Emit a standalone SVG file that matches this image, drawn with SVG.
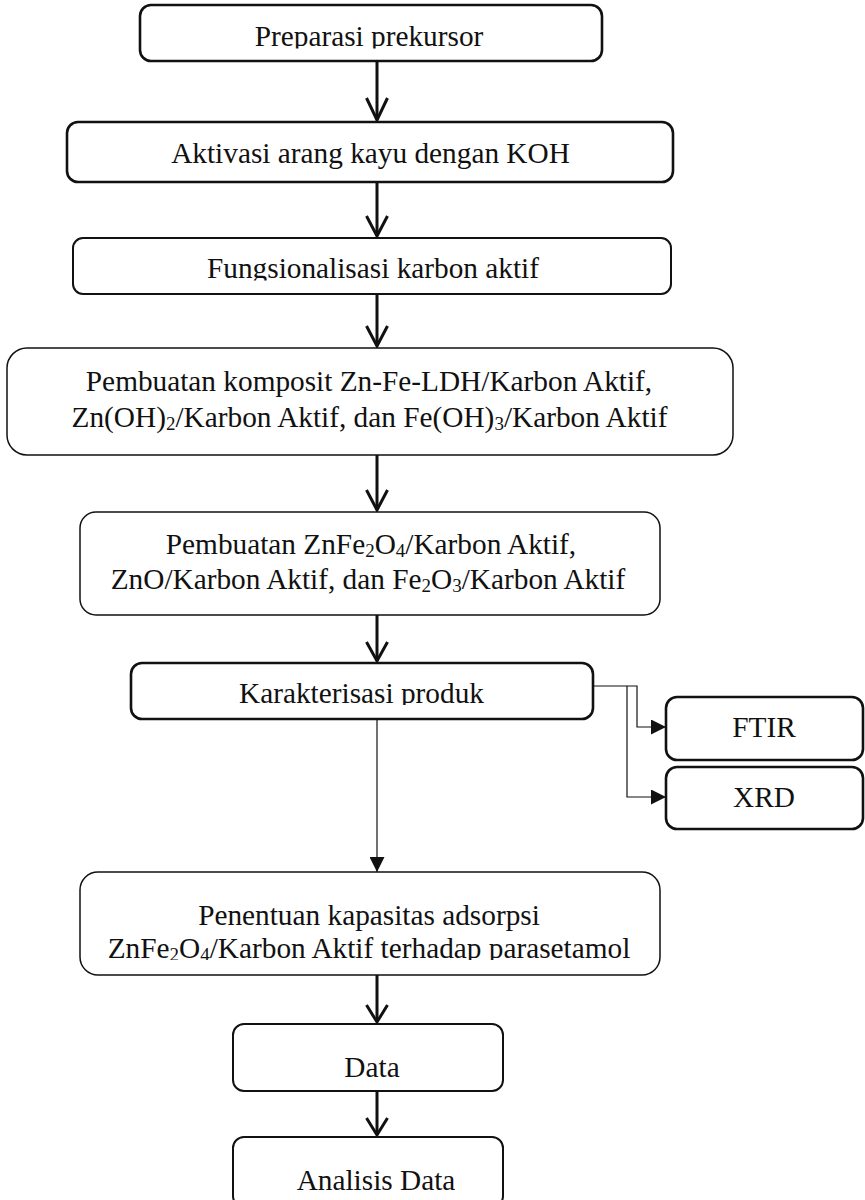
<svg xmlns="http://www.w3.org/2000/svg" width="865" height="1200" viewBox="0 0 865 1200">
<style>
.t{font-family:"Liberation Serif","Times New Roman",serif;font-size:29.3px;fill:#111;text-anchor:middle}
.sub{font-size:19px}
.bx{fill:#fff;stroke:#111}
.thick{stroke-width:2.6}
.mid{stroke-width:2}
.thin{stroke-width:1.5}
.arr{stroke:#111;stroke-width:3;fill:none}
.head{stroke:#111;stroke-width:3;fill:none;stroke-linejoin:miter}
.ln{stroke:#111;stroke-width:1.2;fill:none}
</style>
<defs>
<marker id="tri" viewBox="0 0 10 10" refX="10" refY="5" markerWidth="17" markerHeight="15" markerUnits="userSpaceOnUse" orient="auto">
<path d="M0,0 L10,5 L0,10 Z" fill="#111"/>
</marker>
<clipPath id="c1"><rect x="0" y="0" width="865" height="48.5"/></clipPath>
<clipPath id="c3"><rect x="0" y="200" width="865" height="80.5"/></clipPath>
<clipPath id="c6"><rect x="0" y="650" width="865" height="55"/></clipPath>
<clipPath id="c7"><rect x="0" y="935" width="865" height="25"/></clipPath>
</defs>

<g id="connectors">
<line class="arr" x1="377" y1="61" x2="377" y2="120"/>
<polyline class="head" points="366.5,98 377,120 387.5,98"/>
<line class="arr" x1="377" y1="182" x2="377" y2="236"/>
<polyline class="head" points="366.5,216 377,236 387.5,216"/>
<line class="arr" x1="377" y1="294" x2="377" y2="346"/>
<polyline class="head" points="366.5,326 377,346 387.5,326"/>
<line class="arr" x1="377" y1="455" x2="377" y2="510"/>
<polyline class="head" points="366.5,490 377,510 387.5,490"/>
<line class="arr" x1="377" y1="615" x2="377" y2="661"/>
<polyline class="head" points="366.5,642 377,661 387.5,642"/>
<line class="ln" x1="377" y1="719" x2="377" y2="872" marker-end="url(#tri)"/>
<polyline class="ln" points="593,686 637,686 637,727 666,727" marker-end="url(#tri)"/>
<polyline class="ln" points="627,686 627,797 666,797" marker-end="url(#tri)"/>
<line class="arr" x1="377" y1="975" x2="377" y2="1022"/>
<polyline class="head" points="366.5,1005 377,1022 387.5,1005"/>
<line class="arr" x1="377" y1="1091" x2="377" y2="1135"/>
<polyline class="head" points="366.5,1118 377,1135 387.5,1118"/>
</g>

<g id="n1">
<rect class="bx thick" x="140" y="5" width="462" height="56" rx="11"/>
<text class="t" x="369" y="46" clip-path="url(#c1)">Preparasi prekursor</text>
</g>
<g id="n2">
<rect class="bx thick" x="67" y="122" width="606" height="60" rx="11"/>
<text class="t" x="370.5" y="163">Aktivasi arang kayu dengan KOH</text>
</g>
<g id="n3">
<rect class="bx mid" x="73" y="238" width="598" height="56" rx="10"/>
<text class="t" x="373" y="278" clip-path="url(#c3)">Fungsionalisasi karbon aktif</text>
</g>
<g id="n4">
<rect class="bx thin" x="7" y="348" width="726" height="107" rx="20"/>
<text class="t" x="369" y="391">Pembuatan komposit Zn-Fe-LDH/Karbon Aktif,</text>
<text class="t" x="369.5" y="427">Zn(OH)<tspan class="sub" dy="3">2</tspan><tspan dy="-3">/Karbon Aktif, dan Fe(OH)</tspan><tspan class="sub" dy="3">3</tspan><tspan dy="-3">/Karbon Aktif</tspan></text>
</g>
<g id="n5">
<rect class="bx thin" x="80" y="512" width="580" height="103" rx="16"/>
<text class="t" x="371" y="554">Pembuatan ZnFe<tspan class="sub" dy="3">2</tspan><tspan dy="-3">O</tspan><tspan class="sub" dy="3">4</tspan><tspan dy="-3">/Karbon Aktif,</tspan></text>
<text class="t" x="368" y="589">ZnO/Karbon Aktif, dan Fe<tspan class="sub" dy="3">2</tspan><tspan dy="-3">O</tspan><tspan class="sub" dy="3">3</tspan><tspan dy="-3">/Karbon Aktif</tspan></text>
</g>
<g id="n6">
<rect class="bx thick" x="131" y="663" width="462" height="56" rx="11"/>
<text class="t" x="361.5" y="703" clip-path="url(#c6)">Karakterisasi produk</text>
</g>
<g id="n7">
<rect class="bx thick" x="666" y="697" width="197" height="63" rx="11"/>
<text class="t" x="764" y="737">FTIR</text>
</g>
<g id="n8">
<rect class="bx thick" x="666" y="767" width="197" height="62" rx="11"/>
<text class="t" x="764" y="807">XRD</text>
</g>
<g id="n9">
<rect class="bx thin" x="80" y="872" width="580" height="103" rx="18"/>
<text class="t" x="369" y="925">Penentuan kapasitas adsorpsi</text>
<text class="t" x="369" y="958" clip-path="url(#c7)">ZnFe<tspan class="sub" dy="3">2</tspan><tspan dy="-3">O</tspan><tspan class="sub" dy="3">4</tspan><tspan dy="-3">/Karbon Aktif terhadap parasetamol</tspan></text>
</g>
<g id="n10">
<rect class="bx mid" x="233" y="1024" width="270" height="67" rx="11"/>
<text class="t" x="372" y="1077">Data</text>
</g>
<g id="n11">
<rect class="bx mid" x="233" y="1137" width="270" height="70" rx="11"/>
<text class="t" x="376" y="1190">Analisis Data</text>
</g>
</svg>
